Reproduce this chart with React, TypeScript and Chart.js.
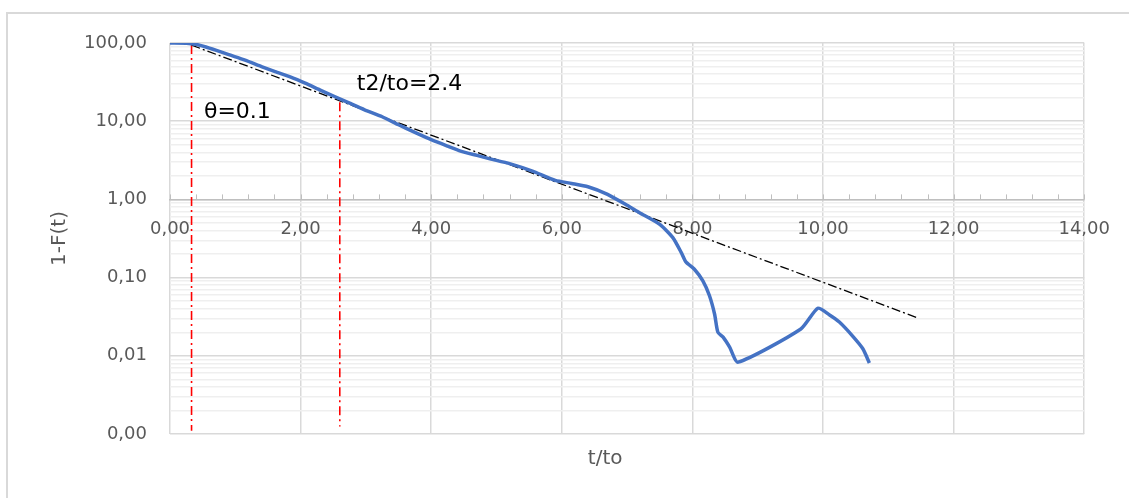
import { useEffect, useRef } from "react";
import { Chart, registerables } from "chart.js";

Chart.register(...registerables);

// ---- data ----
const tValues = [0, 0.25, 0.4, 0.55, 0.7, 0.9, 1.15, 1.4, 1.61, 1.85, 2.07, 2.3, 2.52, 2.75, 2.98, 3.25, 3.5, 3.75, 4.0, 4.25, 4.45, 4.7, 4.9, 5.2, 5.55, 5.9, 6.15, 6.4, 6.7, 7.0, 7.19, 7.5, 7.7, 7.83, 7.9, 8.03, 8.16, 8.26, 8.34, 8.39, 8.47, 8.57, 8.7, 9.66, 9.92, 10.1, 10.25, 10.45, 10.61, 10.71];
const survival = [100, 99.5, 96, 89, 81, 71, 60.5, 50, 43, 36.5, 30.6, 25, 20.7, 17, 14, 11.4, 9.0, 7.2, 5.8, 4.8, 4.15, 3.65, 3.3, 2.87, 2.3, 1.75, 1.6, 1.45, 1.16, 0.84, 0.676, 0.48, 0.325, 0.209, 0.159, 0.128, 0.091, 0.059, 0.034, 0.02, 0.0173, 0.0129, 0.0083, 0.022, 0.0405, 0.0333, 0.027, 0.018, 0.0123, 0.0081];

const fitT = [0.33, 11.43];
const fitValues = [94, 0.031];

const thetaT = [0.33, 0.33];
const thetaValues = [94, 0.0011];

const t2T = [2.6, 2.6];
const t2Values = [17.5, 0.00125];

const annotationTexts = ["θ=0.1", "t2/to=2.4"];
const annotationT = [0.52, 2.86];
const annotationV = [11.1, 25.2];

const xTickValues = [0, 2, 4, 6, 8, 10, 12, 14];
const xMinorStep = 0.4;
const yDecades = [0.001, 0.01, 0.1, 1, 10, 100];
const yMinorMultipliers = [2, 3, 4, 5, 6, 7, 8, 9];

const xTitle = "t/to";
const yTitle = "1-F(t)";

const FONT = "'DejaVu Sans', sans-serif";
const LABEL_COLOR = "#595959";

const isDecade = (v: number) => {
  const l = Math.log10(v);
  return Math.abs(l - Math.round(l)) < 1e-9;
};
const fmt = (v: number) => v.toFixed(2).replace(".", ",");

const zip = (xs: number[], ys: number[]) => xs.map((x, i) => ({ x, y: ys[i] }));

export default function App() {
  const canvasRef = useRef<HTMLCanvasElement | null>(null);

  useEffect(() => {
    const canvas = canvasRef.current;
    if (!canvas) return;

    const yGridValues: number[] = [];
    yDecades.forEach((d, i) => {
      yGridValues.push(d);
      if (i < yDecades.length - 1) yMinorMultipliers.forEach((m) => yGridValues.push(d * m));
    });

    const framePlugin = {
      id: "frame",
      beforeDraw(chart: any) {
        const { ctx, width, height } = chart;
        ctx.save();
        ctx.fillStyle = "#ffffff";
        ctx.fillRect(0, 0, width, height);
        ctx.strokeStyle = "#d9d9d9";
        ctx.lineWidth = 2;
        ctx.beginPath();
        ctx.moveTo(7, height + 5);
        ctx.lineTo(7, 13);
        ctx.lineTo(width + 5, 13);
        ctx.stroke();
        ctx.restore();
      },
      beforeDatasetsDraw(chart: any) {
        const { ctx } = chart;
        const xs = chart.scales.x;
        const ys = chart.scales.y;
        const yAxis = ys.getPixelForValue(1);
        ctx.save();
        ctx.strokeStyle = "#bfbfbf";
        ctx.lineWidth = 1;
        ctx.beginPath();
        for (let k = 0; k * xMinorStep <= 14 + 1e-9; k++) {
          const px = Math.round(xs.getPixelForValue(k * xMinorStep)) + 0.5;
          ctx.moveTo(px, yAxis);
          ctx.lineTo(px, yAxis - 5);
        }
        ctx.stroke();
        ctx.restore();
      },
      afterDraw(chart: any) {
        const { ctx, chartArea } = chart;
        const xs = chart.scales.x;
        const ys = chart.scales.y;
        ctx.save();
        ctx.fillStyle = "#000000";
        ctx.font = `22px ${FONT}`;
        ctx.textAlign = "left";
        ctx.textBaseline = "alphabetic";
        annotationTexts.forEach((txt, i) => {
          ctx.fillText(txt, xs.getPixelForValue(annotationT[i]), ys.getPixelForValue(annotationV[i]));
        });
        ctx.fillStyle = LABEL_COLOR;
        ctx.font = `20px ${FONT}`;
        ctx.textAlign = "center";
        ctx.textBaseline = "middle";
        ctx.fillText(xTitle, chartArea.left + chartArea.width * 0.476, 459);
        ctx.translate(60, (chartArea.top + chartArea.bottom) / 2);
        ctx.rotate(-Math.PI / 2);
        ctx.fillText(yTitle, 0, 0);
        ctx.restore();
      },
    };

    const chart = new Chart(canvas, {
      type: "line",
      data: {
        datasets: [
          {
            label: "1-F(t)",
            data: zip(tValues, survival),
            borderColor: "#4472C4",
            borderWidth: 3.5,
            pointRadius: 0,
            tension: 0.2,
            borderJoinStyle: "round",
            fill: false,
          },
          {
            label: "fit",
            data: zip(fitT, fitValues),
            borderColor: "#000000",
            borderWidth: 1.3,
            borderDash: [9, 3, 2, 3],
            pointRadius: 0,
            fill: false,
          },
          {
            label: "theta",
            data: zip(thetaT, thetaValues),
            borderColor: "#ff0000",
            borderWidth: 1.6,
            borderDash: [9, 4, 2, 4],
            pointRadius: 0,
            fill: false,
          },
          {
            label: "t2",
            data: zip(t2T, t2Values),
            borderColor: "#ff0000",
            borderWidth: 1.6,
            borderDash: [9, 4, 2, 4],
            pointRadius: 0,
            fill: false,
          },
        ],
      },
      options: {
        animation: false,
        responsive: false,
        devicePixelRatio: 1,
        layout: { padding: { left: 8, top: 43, right: 44, bottom: 64 } },
        plugins: { legend: { display: false }, tooltip: { enabled: false }, title: { display: false } },
        scales: {
          x: {
            type: "linear",
            min: 0,
            max: 14,
            position: { y: 1 } as any,
            afterBuildTicks: (scale: any) => {
              scale.ticks = xTickValues.map((v) => ({ value: v }));
            },
            grid: { color: "#d9d9d9", lineWidth: 1.5, drawTicks: false },
            border: { display: true, color: "#bfbfbf", width: 1.5 },
            ticks: {
              autoSkip: false,
              maxRotation: 0,
              padding: 19,
              color: LABEL_COLOR,
              font: { family: FONT, size: 18 },
              callback: (v: any) => fmt(Number(v)),
            },
          },
          y: {
            type: "logarithmic",
            min: 0.001,
            max: 100,
            afterBuildTicks: (scale: any) => {
              scale.ticks = yGridValues.map((v) => ({ value: v }));
            },
            afterFit: (scale: any) => {
              scale.width = 162;
            },
            grid: {
              color: (ctx: any) => (ctx.tick && isDecade(ctx.tick.value) ? "#d9d9d9" : "#efefef"),
              lineWidth: 1.5,
              drawTicks: false,
            },
            border: { display: false },
            ticks: {
              autoSkip: false,
              padding: 23,
              color: LABEL_COLOR,
              font: { family: FONT, size: 18 },
              callback: (v: any) => (isDecade(Number(v)) ? fmt(Number(v)) : ""),
            },
          },
        },
      },
      plugins: [framePlugin],
    });

    return () => chart.destroy();
  }, []);

  return (
    <div style={{ position: "fixed", left: 0, top: 0, width: 1129, height: 498, background: "#fff" }}>
      <canvas ref={canvasRef} width={1129} height={498} style={{ display: "block" }} />
    </div>
  );
}
